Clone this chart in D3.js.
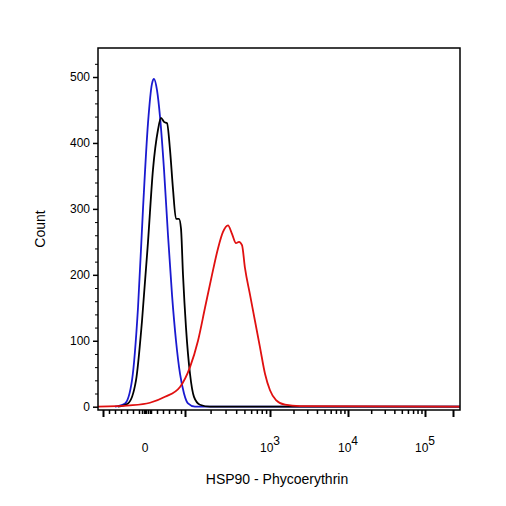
<!DOCTYPE html><html><head><script src="https://cdn.jsdelivr.net/npm/d3@7"></script>
<style>body{margin:0;background:#fff}text{font-family:"Liberation Sans",Arial,sans-serif}</style></head><body><svg id="c" width="506" height="506"></svg><script>
const blueX=[17,27,34,40,45,50,54,56,59,62,66,70,74,78,82,86,90,97,362];
const blueY=[0,5,40,150,300,430,490,497,480,440,360,260,170,100,50,20,5,0,0];
const blackX=[20,30,38,44,50,55,60,63,66,69,72,75,78,81,83,85,88,92,96,102,112,362];
const blackY=[0,5,40,130,250,360,420,438,432,430,390,330,285,285,270,200,120,50,15,3,0,0];
const redX=[0,32,52,67,82,92,100,107,114,120,125,130,134,138,141,144,147,152,157,162,167,172,178,187,202,362];
const redY=[0,2,6,15,30,60,100,150,200,240,265,275,262,248,250,245,210,170,130,90,50,25,10,3,1,0];
const majorX=[5,87,172,250,327,355];
const xLabels=[[47,"0",""],[172,"10","3"],[250,"10","4"],[327,"10","5"]];
const yTicks=[0,100,200,300,400,500];
const svg=d3.select("#c");
const L=98,R=460,T=48,B=410;
const x=d3.scaleLinear().domain([0,362]).range([L,R]);
const y=d3.scaleLinear().domain([-5,544]).range([B,T]);
const minorX=[];
for(let v=11;v<87;v+=6)minorX.push(v);
[44,46,48,50,52].forEach(v=>minorX.push(v));
for(let k=2;k<10;k++){minorX.push(87+Math.log10(k)*85);minorX.push(172+Math.log10(k)*78);minorX.push(250+Math.log10(k)*77);}
const g=svg.append("g");
g.append("g").attr("transform",`translate(0,${B})`).call(d3.axisBottom(x).tickValues(majorX).tickSize(7).tickFormat("")).call(a=>a.select(".domain").remove()).selectAll("line").attr("stroke-width",2);
g.append("g").attr("transform",`translate(0,${B})`).call(d3.axisBottom(x).tickValues(minorX).tickSize(4).tickFormat("")).call(a=>a.select(".domain").remove()).selectAll("line").attr("stroke-width",1.5);
g.append("g").attr("transform",`translate(${L},0)`).call(d3.axisLeft(y).tickValues(yTicks).tickSize(5).tickFormat(d3.format("d"))).call(a=>a.select(".domain").remove()).call(a=>a.selectAll("text").attr("font-size",12).attr("fill","#000")).selectAll("line").attr("stroke-width",1.5);
g.append("g").attr("transform",`translate(${L},0)`).call(d3.axisLeft(y).tickValues(d3.range(20,540,20).filter(v=>v%100)).tickSize(3).tickFormat("")).call(a=>a.select(".domain").remove());
xLabels.forEach(([v,b,e])=>{const t=svg.append("text").attr("x",x(v)).attr("y",452).attr("font-size",12).attr("text-anchor","middle").text(b);if(e)t.append("tspan").attr("dy",-7).attr("font-size",12).text(e);});
const line=d3.line().x(d=>x(d[0])).y(d=>y(d[1])).curve(d3.curveMonotoneX);
[[blueX,blueY,"#1a1ad0"],[blackX,blackY,"#000"],[redX,redY,"#e01010"]].forEach(([xs,ys,c])=>{
svg.append("path").datum(xs.map((v,i)=>[v,ys[i]])).attr("d",line).attr("fill","none").attr("stroke",c).attr("stroke-width",1.8);});
svg.append("rect").attr("x",L).attr("y",T).attr("width",R-L).attr("height",B-T).attr("fill","none").attr("stroke","#000").attr("stroke-width",1.5);
svg.append("text").attr("transform",`translate(45,229) rotate(-90)`).attr("text-anchor","middle").attr("font-size",14).text("Count");
svg.append("text").attr("x",277).attr("y",484).attr("text-anchor","middle").attr("font-size",14).text("HSP90 - Phycoerythrin");
</script></body></html>
